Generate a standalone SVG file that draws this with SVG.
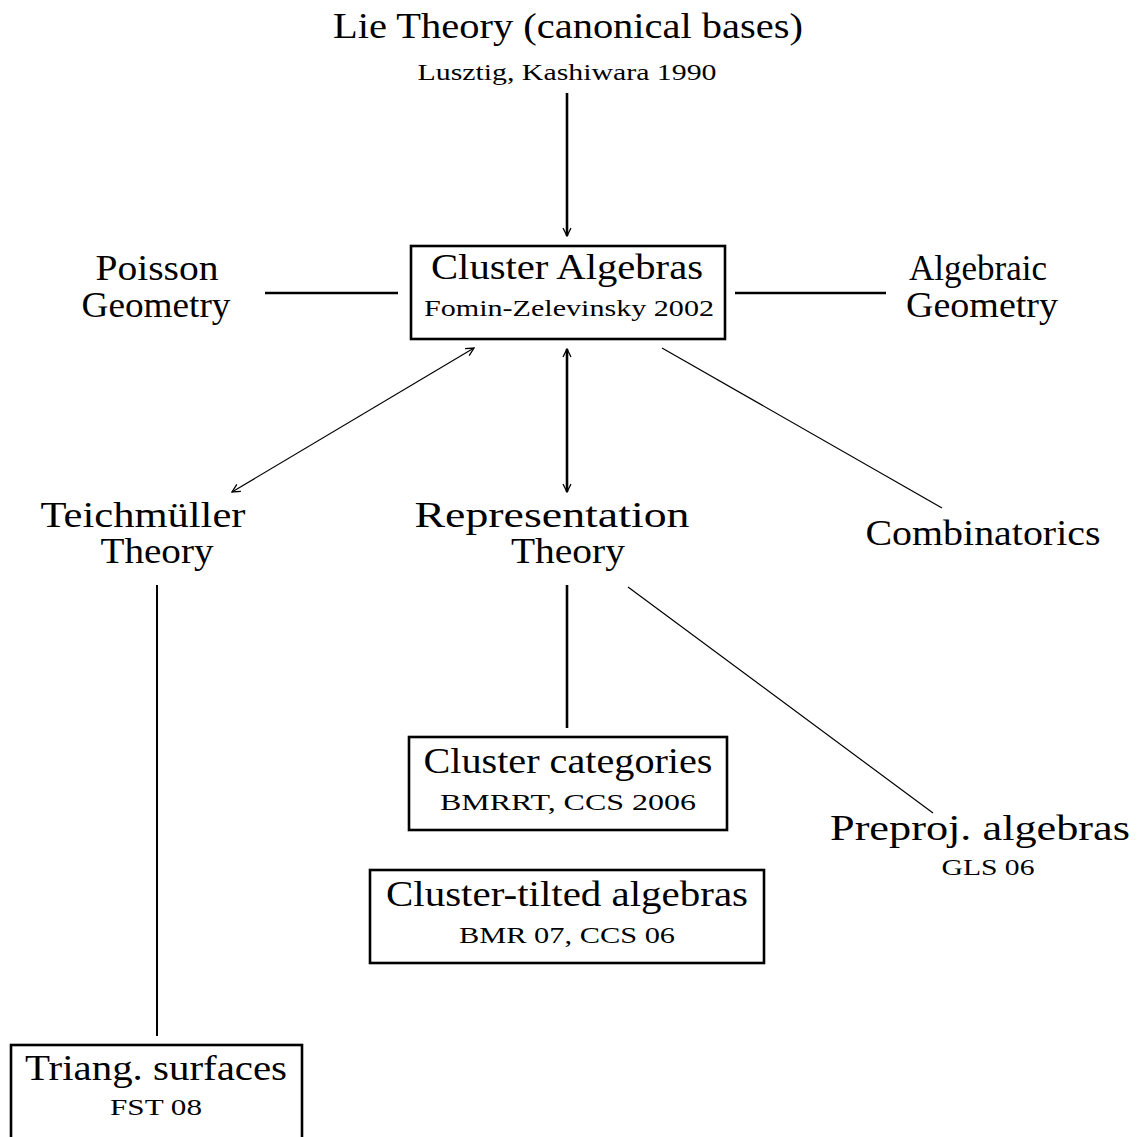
<svg xmlns="http://www.w3.org/2000/svg" width="1143" height="1137" viewBox="0 0 1143 1137">
<style>
text{font-family:"Liberation Serif","Times New Roman",serif;fill:#000;text-anchor:middle}
.big{font-size:35px}
.sm{font-size:24px}
.box{fill:none;stroke:#000;stroke-width:2.6}
.thick{stroke:#000;stroke-width:2.6;fill:none}
.thin{stroke:#000;stroke-width:1.2;fill:none}
</style>
<defs>
<marker id="ah" viewBox="0 0 10 10" refX="9" refY="5" markerWidth="10" markerHeight="10" markerUnits="userSpaceOnUse" orient="auto-start-reverse">
<path d="M1,1 L9,5 L1,9" fill="none" stroke="#000" stroke-width="1.3"/>
</marker>
</defs>
<rect width="1143" height="1137" fill="#fff"/>
<g id="connectors">
<line class="thick" x1="567" y1="93" x2="567" y2="236" marker-end="url(#ah)"/>
<line class="thick" x1="265" y1="293" x2="398" y2="293"/>
<line class="thick" x1="735" y1="293" x2="886" y2="293"/>
<line class="thick" x1="567" y1="349" x2="567" y2="492" marker-start="url(#ah)" marker-end="url(#ah)"/>
<line class="thin" x1="474" y1="348" x2="232" y2="492" marker-start="url(#ah)" marker-end="url(#ah)"/>
<line class="thin" x1="662" y1="348" x2="942" y2="508"/>
<line class="thick" x1="157" y1="585" x2="157" y2="1036" style="stroke-width:2"/>
<line class="thick" x1="567" y1="585" x2="567" y2="728"/>
<line class="thin" x1="628" y1="587" x2="933" y2="813"/>
</g>
<g id="lie">
<text class="big" x="568" y="38" textLength="470" lengthAdjust="spacingAndGlyphs">Lie Theory (canonical bases)</text>
<text class="sm" x="567" y="80" textLength="299" lengthAdjust="spacingAndGlyphs">Lusztig, Kashiwara 1990</text>
</g>
<g id="poisson">
<text class="big" x="157" y="280" textLength="123" lengthAdjust="spacingAndGlyphs">Poisson</text>
<text class="big" x="156" y="317" textLength="149" lengthAdjust="spacingAndGlyphs">Geometry</text>
</g>
<g id="cluster-algebras">
<rect class="box" x="411" y="246" width="314" height="93"/>
<text class="big" x="567" y="279" textLength="272" lengthAdjust="spacingAndGlyphs">Cluster Algebras</text>
<text class="sm" x="569" y="316" textLength="290" lengthAdjust="spacingAndGlyphs">Fomin-Zelevinsky 2002</text>
</g>
<g id="algebraic">
<text class="big" x="978" y="280">Algebraic</text>
<text class="big" x="982" y="317" textLength="152" lengthAdjust="spacingAndGlyphs">Geometry</text>
</g>
<g id="teichmuller">
<text class="big" x="143" y="527" textLength="205" lengthAdjust="spacingAndGlyphs">Teichmüller</text>
<text class="big" x="157" y="563" textLength="113" lengthAdjust="spacingAndGlyphs">Theory</text>
</g>
<g id="representation">
<text class="big" x="552" y="527" textLength="275" lengthAdjust="spacingAndGlyphs">Representation</text>
<text class="big" x="568" y="563" textLength="114" lengthAdjust="spacingAndGlyphs">Theory</text>
</g>
<g id="combinatorics">
<text class="big" x="983" y="545" textLength="235" lengthAdjust="spacingAndGlyphs">Combinatorics</text>
</g>
<g id="cluster-categories">
<rect class="box" x="409" y="737" width="318" height="93"/>
<text class="big" x="568" y="773" textLength="289" lengthAdjust="spacingAndGlyphs">Cluster categories</text>
<text class="sm" x="568" y="810" textLength="256" lengthAdjust="spacingAndGlyphs">BMRRT, CCS 2006</text>
</g>
<g id="preproj">
<text class="big" x="980" y="840" textLength="300" lengthAdjust="spacingAndGlyphs">Preproj. algebras</text>
<text class="sm" x="988" y="875" textLength="93" lengthAdjust="spacingAndGlyphs">GLS 06</text>
</g>
<g id="cluster-tilted">
<rect class="box" x="370" y="870" width="394" height="93"/>
<text class="big" x="567" y="906" textLength="362" lengthAdjust="spacingAndGlyphs">Cluster-tilted algebras</text>
<text class="sm" x="567" y="943" textLength="216" lengthAdjust="spacingAndGlyphs">BMR 07, CCS 06</text>
</g>
<g id="triang">
<rect class="box" x="11" y="1045" width="291" height="110"/>
<text class="big" x="156" y="1080" textLength="262" lengthAdjust="spacingAndGlyphs">Triang. surfaces</text>
<text class="sm" x="156" y="1115" textLength="92" lengthAdjust="spacingAndGlyphs">FST 08</text>
</g>
</svg>
